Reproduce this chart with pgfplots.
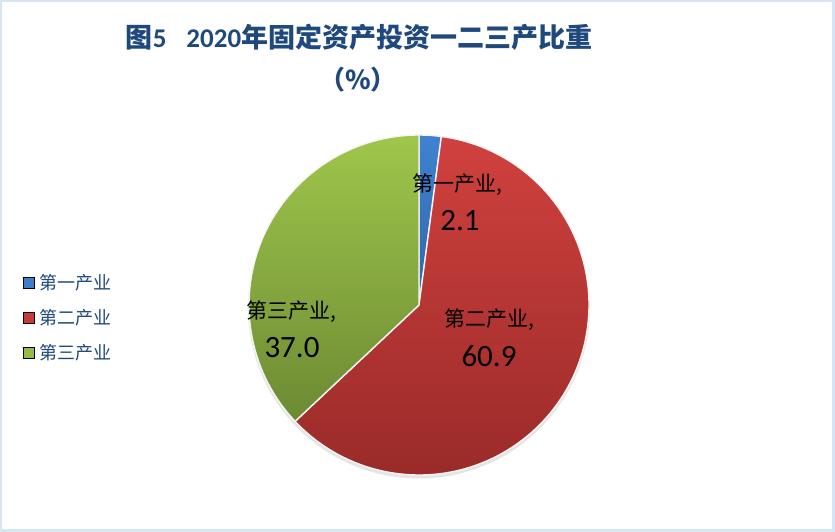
\documentclass[border=0pt]{standalone}
\usepackage{pgfplots}
\pgfplotsset{compat=1.18}
\usepackage{pgfplotstable}
\usepackage{fontspec}
\setmainfont{Carlito}
\newfontfamily\cjk{Noto Sans CJK SC}

\definecolor{framecol}{HTML}{D7E4F4}
\definecolor{titlecol}{HTML}{1F497D}
\definecolor{blueT}{HTML}{4082D0}
\definecolor{blueB}{HTML}{2F66A8}
\definecolor{redT}{HTML}{D0413E}
\definecolor{redB}{HTML}{982A28}
\definecolor{greenT}{HTML}{A0C64B}
\definecolor{greenB}{HTML}{6C8A33}

% share of fixed-asset investment by sector, percent
\pgfplotstableread{
idx share
1 2.1
2 60.9
3 37.0
}\piedata

\begin{document}
\begin{tikzpicture}
\pgfplotstablegetelem{0}{share}\of\piedata \let\sA\pgfplotsretval
\pgfplotstablegetelem{1}{share}\of\piedata \let\sB\pgfplotsretval
\pgfplotstablegetelem{2}{share}\of\piedata \let\sC\pgfplotsretval
\pgfmathsetmacro\aA{90-3.6*\sA}
\pgfmathsetmacro\aB{\aA-3.6*\sB}
\pgfmathsetmacro\aC{\aB-3.6*\sC}
\begin{axis}[
  scale only axis, width=835pt, height=532pt,
  xmin=0, xmax=835, ymin=0, ymax=532,
  hide axis, clip=false,
  legend style={at={(axis cs:23,260)}, anchor=north west, draw=none, fill=none,
    font=\cjk\fontsize{18}{21}\selectfont, text=titlecol,
    row sep=14.5pt, inner sep=0pt, cells={anchor=west}},
  legend image code/.code={\fill[#1] (0pt,-5.5pt) rectangle (11pt,5.5pt);
    \path (14pt,0pt);},
]
% frame and background
\fill[framecol] (0,0) rectangle (835,532);
\fill[white] (2,3) rectangle (832,530);
% soft shadow under the pie
\fill[black!10] (419,224.5) circle[radius=171pt];
% slices, clockwise from twelve o'clock
\path[shade, top color=blueT, bottom color=blueB, draw=white!92!gray, line width=1.4pt]
  (419,227) -- ++(90:170pt) arc[start angle=90, end angle=\aA, radius=170pt] -- cycle;
\path[shade, top color=redT, bottom color=redB, draw=white!92!gray, line width=1.4pt]
  (419,227) -- ++(\aA:170pt) arc[start angle=\aA, end angle=\aB, radius=170pt] -- cycle;
\path[shade, top color=greenT, bottom color=greenB, draw=white!92!gray, line width=1.4pt]
  (419,227) -- ++(\aB:170pt) arc[start angle=\aB, end angle=\aC, radius=170pt] -- cycle;

\addlegendimage{fill=blueT!85!blueB}
\addlegendentry{第一产业}
\addlegendimage{fill=redT!80!redB}
\addlegendentry{第二产业}
\addlegendimage{fill=greenT!80!greenB}
\addlegendentry{第三产业}

% data labels
\node[font=\cjk\fontsize{21}{24}\selectfont] at (457,347) {第一产业,};
\node[font=\fontsize{31}{34}\selectfont] at (460,311) {2.1};
\node[font=\cjk\fontsize{21}{24}\selectfont] at (489,212) {第二产业,};
\node[font=\fontsize{31}{34}\selectfont] at (489,176) {60.9};
\node[font=\cjk\fontsize{21}{24}\selectfont] at (291,220) {第三产业,};
\node[font=\fontsize{31}{34}\selectfont] at (292,184) {37.0};

% title
\node[text=titlecol, font=\fontsize{27}{31}\selectfont\bfseries] at (359,495)
  {{\cjk 图}5\hspace{20pt}2020{\cjk 年固定资产投资一二三产比重}};
\node[text=titlecol, font=\cjk\fontsize{26}{30}\selectfont\bfseries] at (358,452) {（\%）};
\end{axis}
\pgfresetboundingbox
\useasboundingbox (0,0) rectangle (835pt,532pt);
\end{tikzpicture}
\end{document}
